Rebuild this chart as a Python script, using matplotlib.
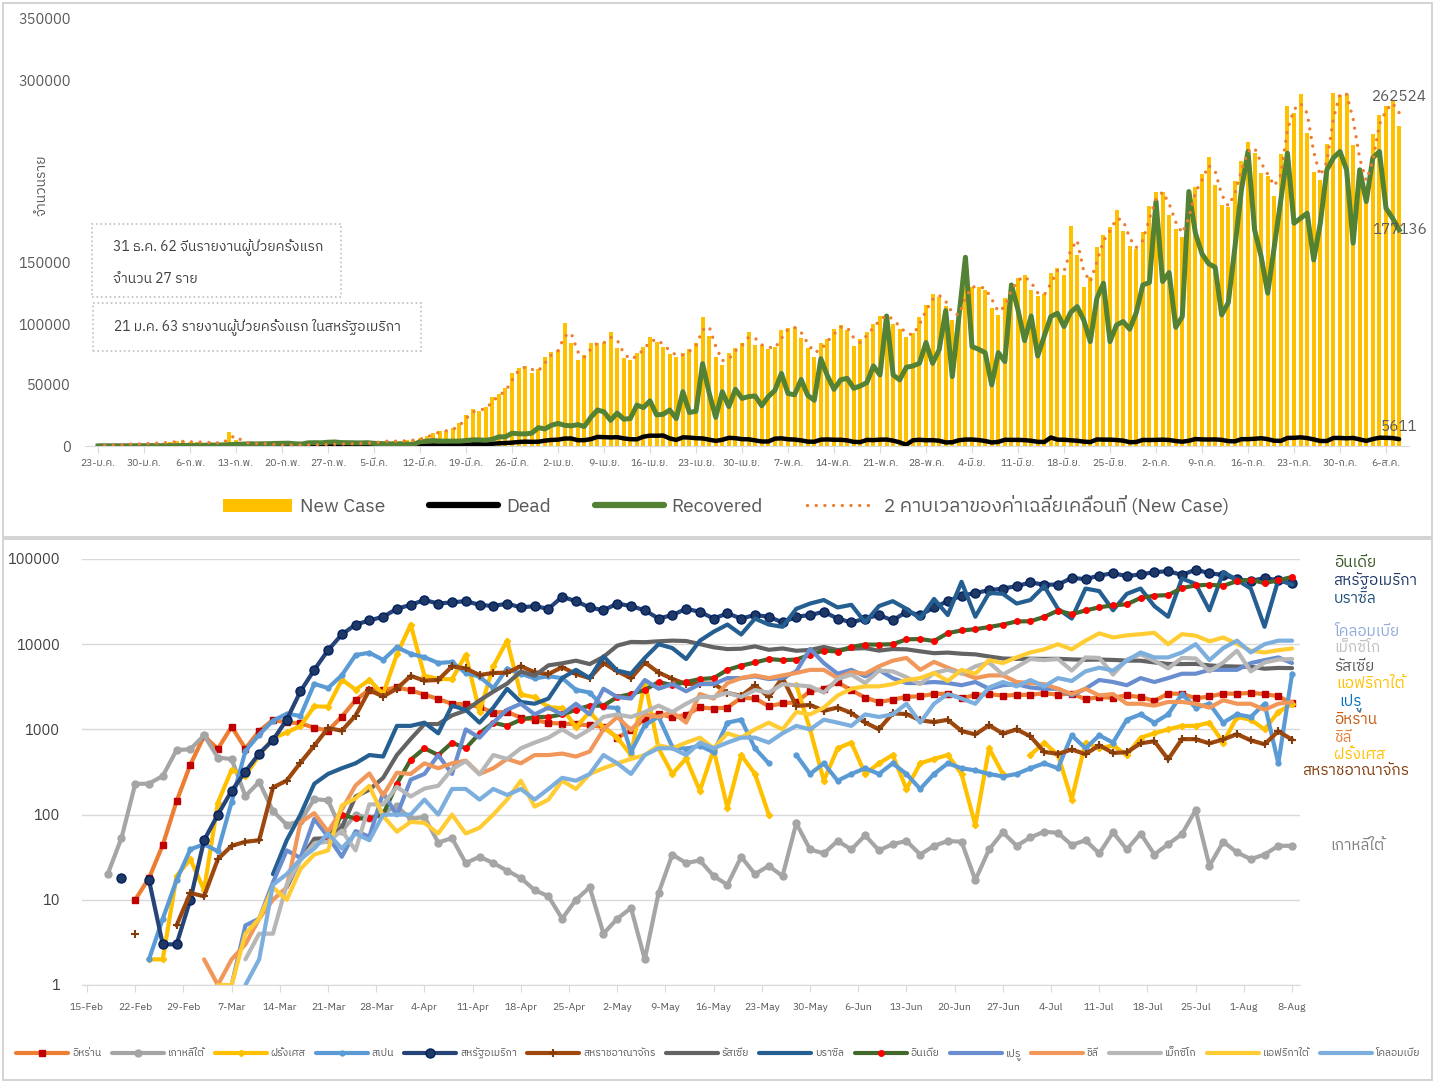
import numpy as np
import pandas as pd
import matplotlib
matplotlib.use('Agg')
import matplotlib.pyplot as plt
from matplotlib import font_manager as fm
from matplotlib.ft2font import FT2Font
from matplotlib.lines import Line2D
from matplotlib.patches import Patch, Rectangle


def find_thai():
    cands = []
    for f in fm.fontManager.ttflist:
        try:
            cmap = FT2Font(f.fname).get_charmap()
        except Exception:
            continue
        if 0x0E01 in cmap and 0x0E31 in cmap and 0x0E48 in cmap:
            cands.append(f.name)
    if not cands:
        return None
    pref = [c for c in cands if 'Thai' in c and 'Looped' not in c]
    return (pref or cands)[0]


THAI = find_thai()
FAM = [THAI, 'DejaVu Sans'] if THAI else ['DejaVu Sans']
plt.rcParams['font.family'] = FAM
N = None

# ---------------- top chart data (daily, 23 Jan - 8 Aug) ----------------
top_start = '2020-01-23'
new_case = [
    300, 500, 700, 800, 1700, 1500, 1800, 2000, 2100,
    2600, 2800, 3200, 3900, 3700, 3200, 3400, 2700, 3000, 2500, 2000, 11500, 5000, 2600, 2100, 2000,
    1900, 1800, 600, 600, 1000, 1000, 700, 900, 900, 1000, 1300, 1400, 1800,
    1800, 1900, 2400, 2300, 2800, 3900, 4000, 3900, 4000, 4600, 5000,
    6300, 8200, 10400, 12500, 12500, 14500, 19100, 25500, 30100, 29000,
    31800, 40500, 42500, 47300, 60100, 63700, 65600, 60100, 62900, 72800,
    77300, 78800, 101100, 84200, 70500, 74700, 84200, 84700, 84500, 93800,
    80100, 71900, 70500, 76500, 81500, 89500, 85500, 81000, 75500, 73300,
    76000, 79300, 84700, 105500, 90200, 73300, 66500, 76000, 80100, 84700,
    93800, 82900, 82900, 79300, 81000, 95200, 96500, 97900, 88300, 80100,
    73300, 84300, 87500, 95700,
    99300, 95200, 82000, 87500, 93800, 100100, 106600, 107500, 100100, 95700,
    89200, 92900, 106100, 115700, 124700, 122500, 114800, 103400, 111600, 130700,
    130200, 130700, 128000, 112900, 107500, 121100, 134000, 137500, 140300, 128000,
    123000, 124700, 141700, 145800, 140300, 180500, 156700, 130200, 138900, 163000,
    173100, 179400, 193500, 176600, 164000, 161300, 175800, 196800, 208600, 207800,
    189500, 177700, 171200, 203200, 212700, 223100, 236800, 214100, 197700, 195800,
    217600,
    234000, 248800, 240000, 224100, 221500, 205000, 239500, 278800, 272900, 288700,
    256900, 225000, 218200, 247700, 289300, 287900, 288700, 246900, 224100, 211400,
    255900, 271500, 278300, 283800, 262524,
]
dead = [
    8, 16, 15, 24, 26, 26, 38, 43, 46,
    45, 57, 64, 66, 73, 73, 86, 89, 97, 108, 97, 254, 121, 143, 142, 105, 98, 136, 115, 118,
    109, 97, 150, 71, 52, 29, 44, 37, 35,
    58, 67, 81, 94, 98, 104, 102, 225, 174, 262, 306, 350, 360, 444, 495, 772, 791, 1002, 995,
    1421, 1633, 1662, 1833, 2246, 2428, 2766, 3278, 3584, 3412, 3498, 4383,
    4970, 5174, 6116, 6158, 4758, 4789, 5637, 7457, 7286, 7040, 7232, 6262, 5562, 5466, 7628,
    8500, 8400, 8600, 6200, 5000, 7100, 6900, 6400, 6200, 5200, 4200, 5100, 6700, 6400, 5600,
    5500, 4600, 3700, 3700, 6000, 6300, 5500, 5300, 4600, 3600, 3500, 5200, 5400, 5100, 5100,
    4600, 3400, 3200, 5000, 4800, 5200, 5300, 4400, 3000, 1000, 4700, 5100, 4700, 4800, 4300, 2900,
    3100, 4700, 5300, 5300, 4900, 4100, 2900, 3400, 5100, 5000, 5000, 4800, 4300, 3400, 3300,
    7000, 5200, 5100, 4700, 4300, 3600, 3200, 5400, 5200, 5200, 4900, 4400, 3100, 3300, 5000,
    4900, 5000, 5200, 4900, 4100, 3500, 4300, 5700, 5400, 5300, 5400, 5000, 4000, 3800, 5600,
    5600, 5900, 6400, 5600, 4300, 4200, 6600, 6700, 7100, 6500, 5400, 4100, 4100, 6600, 6600, 6300,
    6600, 5400, 4200, 5700, 6800, 6700, 6500, 5611,
]
recovered = [
    0, 6, 3, 11, 2, 9, 43, 21, 36,
    80, 150, 150, 250, 260, 380, 500, 600, 700, 740, 900, 1100, 1400, 1500, 1800, 1700, 1800,
    1900, 2100, 2200, 2300, 1800, 1600, 2600, 2700, 2600, 3100, 3300, 2800,
    2700, 2600, 2500, 2700, 2200, 1900, 1900, 1600, 1700, 1600, 1200,
    3500, 4000, 4500, 4000, 4000, 4000, 4000, 4500, 5000, 5000,
    4700, 5500, 7500, 7500, 10500, 10000, 9900, 10500, 15000, 14000,
    17000, 18500, 17000, 16500, 17500, 16000, 23500, 29500, 28000, 21000,
    27000, 22000, 22500, 33500, 31500, 37000, 25500, 26000, 29500, 22500,
    44500, 27500, 28500, 67500, 43500, 23500, 44500, 32300, 46500, 39000,
    40500, 41000, 33000, 40500, 45500, 59500, 43000, 42000, 54500, 41500,
    37500, 71500, 57500, 46500,
    54200, 55500, 47300, 49200, 52000, 65600, 58200, 106600, 58200, 54200,
    64500, 65600, 67800, 84800, 67800, 78800, 111000, 56900, 105500, 154700,
    81500, 79300, 76500, 50100, 76500, 69200, 132000, 111500, 86400, 106600,
    73800, 90200, 106100, 108800, 97900, 109400, 114300, 103300, 85600, 121100,
    133400, 85600, 99200, 102000, 95700, 109400, 132000, 134000, 200400, 134800,
    142200, 97300, 106100, 208600, 174400, 157500, 149500, 146500, 107500, 117500,
    162500,
    210000, 241400, 177200, 155300, 125300, 163500, 201800, 240000, 182600, 186700,
    190800, 152500, 182500, 226400, 236200, 241400, 226400, 166300, 226400, 200400,
    236200, 241400, 194900, 186700, 177136,
]
top_xlabels = ['23-ม.ค.', '30-ม.ค.', '6-ก.พ.', '13-ก.พ.', '20-ก.พ.', '27-ก.พ.', '5-มี.ค.',
               '12-มี.ค.', '19-มี.ค.', '26-มี.ค.', '2-เม.ย.', '9-เม.ย.', '16-เม.ย.', '23-เม.ย.',
               '30-เม.ย.', '7-พ.ค.', '14-พ.ค.', '21-พ.ค.', '28-พ.ค.', '4-มิ.ย.', '11-มิ.ย.',
               '18-มิ.ย.', '25-มิ.ย.', '2-ก.ค.', '9-ก.ค.', '16-ก.ค.', '23-ก.ค.', '30-ก.ค.', '6-ส.ค.']
top_yticks = [0, 50000, 100000, 150000, 200000, 250000, 300000, 350000]
top_yticklabels = ['0', '50000', '100000', '150000', '', '', '300000', '350000']
top_series_names = ['New Case', 'Dead', 'Recovered', '2 คาบเวลาของค่าเฉลี่ยเคลื่อนที่ (New Case)']
note1 = ['31 ธ.ค. 62 จีนรายงานผู้ป่วยครั้งแรก', 'จำนวน 27 ราย']
note2 = '21 ม.ค. 63 รายงานผู้ป่วยครั้งแรก ในสหรัฐอเมริกา'

# ---------------- bottom chart data (every 2nd day, 16 Feb - 8 Aug) ----------------
bot_dates = pd.date_range('2020-02-16', '2020-08-08', freq='2D')
iran = [N, N, N, 10, 18, 44, 143, 385, 835, 591,
        1076, 595, 958, 1289, 1209, 1178, 1046, 966, 1411, 2206,
        2926, 2901, 3111, 2875, 2560, 2274, 1997, 1972, 1837, 1574,
        1606, 1374, 1294, 1194, 1168, 1153, 1112, 1073, 802, 976,
        1323, 1529, 1383, 1481, 1808, 1757, 1806, 2346, 2311, 1869,
        2023, 2080, 2819, 2979, 3574, 2886, 2364, 2095, 2238, 2410,
        2449, 2612, 2615, 2322, 2531, 2595, 2489, 2536, 2549, 2652,
        2560, 2637, 2262, 2397, 2349, 2521, 2379, 2166, 2625, 2621,
        2316, 2434, 2636, 2621, 2685, 2598, 2450, 2020]
korea = [N, 20, 53, 229, 231, 284, 571, 586, 851, 467,
         448, 165, 242, 110, 76, 84, 152, 147, 64, 100,
         91, 105, 125, 89, 94, 47, 53, 27, 32, 27,
         22, 18, 13, 11, 6, 10, 14, 4, 6, 8,
         2, 12, 34, 27, 29, 19, 15, 32, 20, 25,
         19, 79, 39, 35, 49, 39, 57, 38, 45, 49,
         34, 43, 49, 48, 17, 39, 62, 43, 54, 63,
         61, 44, 50, 35, 62, 39, 60, 34, 45, 59,
         113, 25, 48, 36, 30, 34, 43, 43]
france = [N, N, N, N, 2, 2, 19, 30, 13, 138,
          336, 286, 497, 785, 924, 1097, 1861, 1847, 3838, 2931,
          3809, 2599, 7578, 17000, 4267, 3912, 3881, 7500, 1613, 5497,
          11000, 2569, 2383, 1827, 1773, 1062, 1606, 1052, 800, 500,
          3640, 600, 300, 456, 190, 580, 120, 500, 300, 100,
          N, 3325, 1000, 250, 600, 700, 300, 400, 500, 200,
          400, 450, 500, 300, 75, 600, 300, N, 500, 700,
          500, 150, 700, 600, 650, 500, 800, 900, 1000, 1100,
          1100, 1200, 700, 1400, 1300, 1000, 1600, 2000]
spain = [N, N, N, N, 2, 6, 17, 39, 45, 37,
         141, 557, 869, 1266, 1522, 1438, 3431, 3052, 4321, 7457,
         7933, 6549, 9222, 7719, 7026, 6023, 6180, 4576, 4167, 3045,
         5183, 4499, 3968, 4211, 3995, 2915, 2706, 1835, 1781, 545,
         1122, 1410, 621, 594, 643, 539, 1200, 1300, 600, 400,
         N, 500, 300, 400, 250, 300, 350, 300, 400, 300,
         200, 300, 400, 350, 330, 300, 280, 300, 350, 400,
         350, 850, 600, 850, 700, 1300, 1500, 1200, 1500, 2600,
         1800, 2000, 1200, 1500, 1400, 2000, 400, 4500]
usa = [N, N, 18, N, 17, 3, 3, 10, 50, 100,
       190, 320, 520, 750, 1300, 2800, 5000, 8500, 13000, 17000,
       19000, 21000, 26000, 29000, 33000, 30000, 31000, 32000, 29000, 28000,
       30000, 27000, 28000, 26000, 36000, 32000, 27000, 25000, 30000, 28000,
       25000, 20000, 22000, 26000, 24000, 20000, 23000, 20000, 22000, 21000,
       18000, 21000, 22000, 24000, 20000, 18000, 20000, 22000, 19000, 24000,
       22000, 27000, 32000, 37000, 40000, 43000, 45000, 48000, 53000, 50000,
       50000, 60000, 58000, 64000, 68000, 63000, 66000, 70000, 72000, 65000,
       75000, 68000, 65000, 58000, 55000, 60000, 56000, 52000]
uk = [N, N, N, 4, N, N, 5, 12, 11, 30,
      43, 48, 50, 208, 251, 407, 643, 1035, 967, 1452,
      2885, 2433, 3009, 4244, 3735, 3802, 5491, 5195, 4342, 4603,
      4618, 5525, 4676, 4451, 5386, 4463, 3996, 6032, 4806, 3985,
      6111, 4649, 3923, 3403, 3446, 3450, 2684, 2472, 3287, 2405,
      4043, 1887, 1936, 1653, 1805, 1557, 1205, 1003, 1541, 1514,
      1279, 1218, 1295, 958, 874, 1118, 890, 1000, 829, 544,
      516, 581, 512, 650, 530, 538, 687, 726, 445, 769,
      768, 685, 763, 880, 744, 670, 950, 758]
russia = [N, N, N, N, N, N, N, N, N, N,
          N, N, N, N, 14, 30, 52, 53, 71, 163,
          196, 270, 500, 771, 1154, 1154, 1459, 1667, 2186, 2774,
          3448, 4785, 4268, 5642, 5966, 6411, 5841, 7099, 9623, 10633,
          10559, 10817, 11012, 10899, 10028, 9200, 8764, 8849, 9434, 8599,
          8915, 8371, 8572, 9268, 8536, 8855, 8984, 8404, 8779, 8706,
          8246, 7843, 7972, 7728, 7600, 7176, 6800, 6719, 6760, 6718,
          6736, 6632, 6562, 6611, 6537, 6422, 6406, 6109, 5862, 5848,
          5871, 5635, 5509, 5462, 5427, 5159, 5267, 5241]
brazil = [N, N, N, N, N, N, N, N, N, N,
          N, N, N, 20, 50, 100, 230, 300, 350, 400,
          500, 480, 1100, 1100, 1200, 900, 1900, 1700, 1200, 1800,
          3000, 2100, 2000, 2300, 4000, 5000, 4000, 7200, 4900, 4500,
          6900, 10000, 9000, 6700, 11000, 14000, 17000, 13000, 20000, 17000,
          16000, 26000, 30000, 33000, 27000, 29000, 18000, 28000, 32000, 26000,
          20000, 34000, 22000, 54000, 21000, 40000, 39000, 30000, 33000, 48000,
          26000, 20000, 45000, 42000, 25000, 39000, 45000, 28000, 21000, 59000,
          51000, 25000, 70000, 57000, 45000, 16000, 57000, 50000]
india = [N, N, N, N, N, N, N, N, N, N,
         N, N, N, N, N, N, N, 50, 100, 90,
         90, 100, 230, 440, 600, 500, 700, 600, 900, 1200,
         1100, 1300, 1400, 1400, 1500, 1700, 1900, 1900, 2400, 2600,
         2900, 3600, 3300, 3600, 3900, 4000, 5000, 5600, 6100, 6700,
         6500, 6600, 7500, 8400, 8200, 9300, 9900, 9900, 10000, 11400,
         11500, 10900, 13500, 14500, 15000, 15900, 17000, 18500, 18600, 20900,
         24800, 22500, 24900, 27100, 28600, 29400, 34900, 37100, 37700, 45700,
         48900, 49900, 48500, 55000, 57100, 52000, 56300, 61500]
peru = [N, N, N, N, N, N, N, N, N, N,
        1, 5, 6, 16, 38, 31, 89, 55, 32, 64,
        55, 181, 98, 257, 300, 500, 300, 1000, 800, 1200,
        1700, 2000, 1500, 1800, 1500, 2000, 1500, 3000, 2400, 2300,
        3800, 3000, 3400, 2800, 3400, 3400, 4000, 4000, 4200, 3900,
        4000, 4800, 8800, 6000, 4500, 5000, 4200, 5000, 4000, 3500,
        3500, 3600, 3500, 3300, 3600, 3000, 3300, 3400, 3100, 3000,
        3000, 2500, 3000, 3800, 3600, 3300, 4000, 3600, 4000, 4500,
        4500, 5000, 5000, 5000, 6000, 6500, 7000, 6000]
chile = [N, N, N, N, N, N, N, N, 2, 1,
         2, 3, 6, 10, 14, 81, 104, 63, 114, 220,
         304, 168, 310, 300, 400, 350, 400, 430, 300, 350,
         450, 400, 500, 500, 520, 480, 550, 1000, 1400, 980,
         1500, 1400, 1600, 1200, 2600, 2300, 3500, 4000, 4300, 4000,
         4300, 4600, 5000, 5000, 4000, 4700, 4500, 5500, 6400, 6900,
         5000, 6200, 5300, 4600, 4000, 4300, 4300, 3600, 3500, 3400,
         3000, 2600, 3000, 2500, 2600, 2000, 2000, 1900, 2100, 2100,
         2000, 1800, 2200, 2000, 2000, 1700, 2000, 2100]
mexico = [N, N, N, N, N, N, 2, N, 1, N,
          N, 2, 4, 4, 15, 29, 46, 48, 65, 38,
          132, 131, 212, 163, 202, 218, 341, 424, 296, 500,
          450, 600, 700, 800, 1000, 800, 1000, 1400, 1500, 1400,
          1600, 1900, 1600, 2000, 2400, 2400, 2700, 2400, 2900, 2700,
          3400, 3300, 3200, 2700, 3900, 4400, 3500, 4900, 4800, 4100,
          3400, 4600, 5000, 4500, 5500, 6100, 4400, 5400, 6700, 6500,
          6700, 4900, 7000, 6900, 4400, 6600, 7600, 6400, 5200, 6900,
          6800, 4800, 6100, 8400, 4800, 6100, 6600, 6700]
s_africa = [N, N, N, N, N, N, N, N, N, 1,
            1, 4, 6, 14, 10, 23, 34, 38, 128, 155,
            218, 96, 63, 82, 80, 60, 100, 60, 70, 100,
            150, 250, 124, 150, 250, 200, 300, 350, 400, 450,
            500, 650, 600, 700, 800, 600, 900, 800, 1000, 1200,
            1000, 1600, 1500, 1800, 2500, 3000, 3200, 3200, 3400, 3800,
            4000, 4600, 3700, 5000, 4500, 6500, 6000, 7000, 8000, 8700,
            10000, 8700, 11000, 13400, 12000, 12700, 13100, 13600, 10000, 13100,
            12600, 10800, 12000, 10100, 8400, 8000, 8500, 8900]
colombia = [N, N, N, N, N, N, N, N, N, N,
            N, 1, 2, 15, 20, 30, 40, 60, 40, 60,
            50, 100, 100, 100, 150, 100, 200, 200, 150, 200,
            170, 200, 150, 200, 270, 250, 300, 500, 400, 300,
            500, 600, 600, 500, 700, 600, 700, 800, 800, 700,
            900, 1100, 1000, 1300, 1200, 1100, 1500, 1400, 1500, 2000,
            1200, 2000, 2600, 2300, 2000, 3100, 3600, 3200, 3800, 3200,
            4000, 3700, 4800, 5300, 4900, 6400, 8000, 7000, 7000, 8000,
            10000, 6500, 9000, 11000, 8000, 10000, 11000, 11000]
bot_names = ['อิหร่าน', 'เกาหลีใต้', 'ฝรั่งเศส', 'สเปน', 'สหรัฐอเมริกา', 'สหราชอาณาจักร', 'รัสเซีย',
             'บราซิล', 'อินเดีย', 'เปรู', 'ชิลี', 'เม็กซิโก', 'แอฟริกาใต้', 'โคลอมเบีย']
bot_xlabels = ['15-Feb', '22-Feb', '29-Feb', '7-Mar', '14-Mar', '21-Mar', '28-Mar', '4-Apr', '11-Apr',
               '18-Apr', '25-Apr', '2-May', '9-May', '16-May', '23-May', '30-May', '6-Jun', '13-Jun',
               '20-Jun', '27-Jun', '4-Jul', '11-Jul', '18-Jul', '25-Jul', '1-Aug', '8-Aug']
bot_yticks = [1, 10, 100, 1000, 10000, 100000]
right_labels = ['อินเดีย', 'สหรัฐอเมริกา', 'บราซิล', 'โคลอมเบีย', 'เม็กซิโก', 'รัสเซีย', 'แอฟริกาใต้',
                'เปรู', 'อิหร่าน', 'ชิลี', 'ฝรั่งเศส', 'สหราชอาณาจักร', 'เกาหลีใต้']

# ---------------- figure ----------------
W, H = 1443, 1082
fig = plt.figure(figsize=(W / 100, H / 100), dpi=100)
fig.patch.set_facecolor('white')
GRAY = '#595959'


def fx(px):
    return px / W


def fy(py):
    return 1 - py / H


for (x0, y0, x1, y1) in [(3, 3, 1432, 537), (3, 539, 1432, 1080)]:
    fig.patches.append(Rectangle((fx(x0), fy(y1)), fx(x1) - fx(x0), fy(y0) - fy(y1),
                                 transform=fig.transFigure, fill=False, ec='#D0D0D0', lw=1.3))

# ---------------- top chart ----------------
ax = fig.add_axes([fx(85), fy(446), fx(1409) - fx(85), fy(19) - fy(446)])
days = pd.date_range(top_start, periods=len(new_case))
x = np.arange(len(days))
nc = np.array(new_case, float)
ma = pd.Series(nc).rolling(2).mean().values
ax.bar(x, nc, width=0.62, color='#FFC000', zorder=2)
ax.plot(x, dead, color='black', lw=3.2, zorder=3, solid_capstyle='round')
ax.plot(x, recovered, color='#548235', lw=3.6, zorder=4, solid_joinstyle='round')
ax.plot(x, ma, color='#ED7D31', lw=2.4, ls=(0, (0.01, 2.6)), dash_capstyle='round', zorder=5)
ax.set_xlim(-1.98, 199.5)
ax.set_ylim(0, 350000)
ax.set_yticks(top_yticks)
ax.set_yticklabels(top_yticklabels)
ax.set_xticks(np.arange(0, len(x), 7))
ax.set_xticklabels(top_xlabels)
for s in ['top', 'right', 'left']:
    ax.spines[s].set_visible(False)
ax.spines['bottom'].set_color('#D9D9D9')
ax.tick_params(axis='x', direction='out', length=5, color='#D9D9D9', labelsize=7.5,
               labelcolor=GRAY, pad=4)
ax.tick_params(axis='y', length=0, labelsize=10.5, labelcolor=GRAY, pad=10)
ax.annotate(f'{new_case[-1]}', xy=(x[-1], new_case[-1]), xytext=(0, 29), textcoords='offset pixels',
            ha='center', va='center', fontsize=11, color=GRAY)
ax.annotate(f'{recovered[-1]}', xy=(x[-1], recovered[-1]), xytext=(0, 0), textcoords='offset pixels',
            ha='center', va='center', fontsize=11, color=GRAY, zorder=6)
ax.annotate(f'{dead[-1]}', xy=(x[-1], dead[-1]), xytext=(0, 12), textcoords='offset pixels',
            ha='center', va='center', fontsize=11, color=GRAY)

fig.text(fx(42), fy(185), 'จำนวนราย', rotation=90, ha='center', va='center', fontsize=10, color=GRAY)

for (x0, y0, x1, y1) in [(92, 224, 341, 297), (93, 303, 421, 351)]:
    fig.patches.append(Rectangle((fx(x0), fy(y1)), fx(x1) - fx(x0), fy(y0) - fy(y1),
                                 transform=fig.transFigure, fc='white', ec='#BFBFBF', lw=1.2, ls=':'))
fig.text(fx(113), fy(248), note1[0], va='center', ha='left', fontsize=10, color='#404040')
fig.text(fx(113), fy(279), note1[1], va='center', ha='left', fontsize=10, color='#404040')
fig.text(fx(114), fy(327), note2, va='center', ha='left', fontsize=10, color='#404040')

top_handles = [Patch(fc='#FFC000', ec='none'),
               Line2D([], [], color='black', lw=4.5, solid_capstyle='round'),
               Line2D([], [], color='#548235', lw=4.5, solid_capstyle='round'),
               Line2D([], [], color='#ED7D31', lw=2.4, ls=(0, (0.01, 2.6)), dash_capstyle='round')]
leg1 = fig.legend(top_handles, top_series_names, loc='center', bbox_to_anchor=(fx(726), fy(506)),
                  ncol=4, frameon=False, fontsize=13.8, handlelength=3.6, handleheight=0.7,
                  handletextpad=0.4, columnspacing=2.3)
for t in leg1.get_texts():
    t.set_color(GRAY)

# ---------------- bottom chart ----------------
bx = fig.add_axes([fx(82), fy(985), fx(1300) - fx(82), fy(559) - fy(985)])
bd = (bot_dates - pd.Timestamp('2020-02-15')).days.values.astype(float)
series = [iran, korea, france, spain, usa, uk, russia, brazil, india, peru, chile, mexico,
          s_africa, colombia]
styles = [
    dict(color='#ED7D31', marker='s', ms=5, mfc='#C00000', mec='#C00000'),
    dict(color='#A5A5A5', marker='o', ms=5, mfc='#A5A5A5', mec='#A5A5A5'),
    dict(color='#FFC000', marker='D', ms=3.2, mfc='#FFC000', mec='#FFC000'),
    dict(color='#5B9BD5', marker='o', ms=3.5, mfc='#5B9BD5', mec='#5B9BD5'),
    dict(color='#264478', marker='o', ms=6.5, mfc='#1F3864', mec='#002060'),
    dict(color='#9E480E', marker='+', ms=6, mec='#843C0C', mew=1.5),
    dict(color='#636363'),
    dict(color='#255E91'),
    dict(color='#43682B', marker='o', ms=4, mfc='#FF0000', mec='#FF0000'),
    dict(color='#698ED0'),
    dict(color='#F1975A'),
    dict(color='#B7B7B7'),
    dict(color='#FFCD33'),
    dict(color='#7CAFDD'),
]
handles = []
for vals, st, name in zip(series, styles, bot_names):
    y = np.array([np.nan if v is None else v for v in vals], float)
    ln, = bx.plot(bd, y, lw=3, label=name, solid_joinstyle='round', solid_capstyle='round', **st)
    handles.append(ln)
bx.set_yscale('log')
bx.set_ylim(1, 100000)
bx.set_xlim(-0.73, 176.15)
bx.set_yticks(bot_yticks)
bx.set_yticklabels([str(v) for v in bot_yticks])
bx.yaxis.set_minor_locator(matplotlib.ticker.NullLocator())
bx.set_xticks(np.arange(0, 176, 7))
bx.set_xticklabels(bot_xlabels)
bx.grid(axis='y', color='#D9D9D9', lw=1)
bx.set_axisbelow(True)
for s in ['top', 'right', 'left']:
    bx.spines[s].set_visible(False)
bx.spines['bottom'].set_color('#D9D9D9')
bx.tick_params(axis='x', direction='out', length=5, color='#D9D9D9', labelsize=7.5,
               labelcolor=GRAY, pad=8)
bx.tick_params(axis='y', length=0, labelsize=10.5, labelcolor='#404040', pad=16)

leg2 = fig.legend(handles, bot_names, loc='center', bbox_to_anchor=(fx(718), fy(1054)), ncol=14,
                  frameon=False, fontsize=7.5, handlelength=5.0, handletextpad=0.35,
                  columnspacing=1.0)
for t in leg2.get_texts():
    t.set_color(GRAY)

right_pos = [(1334, 563, '#375623'), (1333, 580, '#1F3864'), (1334, 599, '#1F4E79'),
             (1334, 632, '#8FAADC'), (1334, 648, '#BFBFBF'), (1334, 667, '#595959'),
             (1336, 684, '#FFC000'), (1339, 703, '#0070C0'), (1334, 720, '#C55A11'),
             (1334, 738, '#ED7D31'), (1334, 755, '#FFC000'), (1302, 771, '#843C0C'),
             (1330, 846, '#7F7F7F')]
for lab, (px, py, c) in zip(right_labels, right_pos):
    fig.text(fx(px), fy(py), lab, ha='left', va='center', fontsize=11, color=c)

fig.savefig('out.png', dpi=100, facecolor='white')
